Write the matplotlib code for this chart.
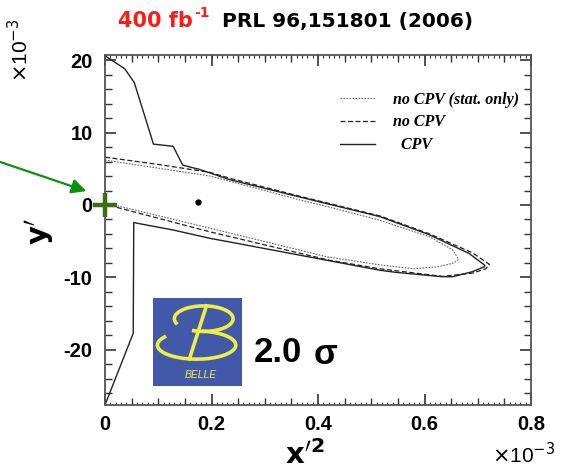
import numpy as np
import matplotlib
matplotlib.use('Agg')
from matplotlib import pyplot as plt
from matplotlib.ticker import MultipleLocator

plt.rcParams['font.family'] = ['Liberation Sans', 'DejaVu Sans']

# contours (x'^2 and y' in units of 1e-3)
cpv_x = [0.0, 0.037, 0.055, 0.091, 0.128, 0.146, 0.178, 0.234, 0.366, 0.516, 0.609, 0.684, 0.713,
         0.713, 0.69, 0.653, 0.634, 0.547, 0.516, 0.234, 0.197, 0.128, 0.059, 0.054, 0.053, 0.0]
cpv_y = [20.6, 18.8, 16.9, 8.4, 8.1, 5.5, 4.9, 3.5, 1.1, -1.6, -4.1, -6.7, -8.3,
         -8.5, -9.2, -9.9, -9.9, -9.3, -9.0, -5.1, -4.6, -3.45, -2.5, -2.4, -17.7, -27.6]

nocpv_x = [0.0, 0.1, 0.197, 0.234, 0.366, 0.516, 0.61, 0.69, 0.722,
           0.715, 0.69, 0.634, 0.516, 0.42, 0.197, 0.0]
nocpv_y = [6.6, 5.6, 4.5, 3.7, 1.2, -1.5, -4.0, -6.6, -8.2,
           -8.8, -9.4, -9.85, -8.8, -7.6, -3.7, 0.1]

stat_x = [0.0, 0.197, 0.366, 0.422, 0.516, 0.61, 0.653, 0.664,
          0.655, 0.628, 0.58, 0.52, 0.42, 0.197, 0.0]
stat_y = [6.2, 4.0, 0.7, -0.3, -2.1, -4.4, -6.2, -7.5,
          -8.0, -8.5, -8.8, -8.3, -7.2, -3.2, 0.3]

best_x, best_y = [0.174], [0.4]
nomix_x, nomix_y = [0.0], [0.0]

labels = ['no CPV (stat. only)', 'no CPV', '  CPV']

fig = plt.figure(figsize=(5.62, 4.70), dpi=100)
ax = fig.add_axes([105/562, 65/470, 426/562, 350/470])

l_stat, = ax.plot(stat_x, stat_y, color='#666666', lw=0.8, ls=(0, (1.5, 1.2)))
l_nocpv, = ax.plot(nocpv_x, nocpv_y, color='#222222', lw=0.9, ls=(0, (4, 2)))
l_cpv, = ax.plot(cpv_x, cpv_y, color='#222222', lw=1.0)
ax.plot(best_x, best_y, 'o', color='black', ms=3.5)
ax.plot(nomix_x, nomix_y, '+', color='#3b6e10', ms=17, mew=3.2, clip_on=False, zorder=5)

ax.set_xlim(0, 0.8)
ax.set_ylim(-27.6, 20.7)
ax.xaxis.set_major_locator(MultipleLocator(0.2))
ax.xaxis.set_minor_locator(MultipleLocator(0.05))
ax.yaxis.set_major_locator(MultipleLocator(10))
ax.yaxis.set_minor_locator(MultipleLocator(2))
ax.tick_params(which='both', direction='in', top=True, right=True, color='#333333')
ax.tick_params(which='major', length=8, width=1.2)
ax.tick_params(which='minor', length=5, width=1.0)
ax.tick_params(axis='x', which='major', pad=7)
ax.tick_params(axis='y', which='major', pad=9)
for lbl in ax.get_xticklabels() + ax.get_yticklabels():
    lbl.set_fontweight('bold')
    lbl.set_fontsize(14.5)
ax.xaxis.set_major_formatter(matplotlib.ticker.FuncFormatter(lambda v, p: '%g' % round(v, 2)))
ax.yaxis.set_major_formatter(matplotlib.ticker.FuncFormatter(lambda v, p: '%d' % round(v)))
for s in ax.spines.values():
    s.set_color('#555555')
    s.set_linewidth(1.3)

# tiny ticks every 0.01 along x
for side in ('bottom', 'top'):
    sec = ax.secondary_xaxis(side)
    sec.set_xticks(np.arange(0, 0.801, 0.01))
    sec.tick_params(direction='in', length=2.5, width=0.8, color='#333333',
                    labelbottom=False, labeltop=False)
    sec.spines[side].set_visible(False)

leg = ax.legend([l_stat, l_nocpv, l_cpv], labels, loc='upper left',
                bbox_to_anchor=(0.552, 0.895), frameon=False, borderpad=0,
                borderaxespad=0, handlelength=2.2, handletextpad=1.1, labelspacing=0.42,
                prop=dict(family='Liberation Serif', style='italic', weight='bold', size=11.5))

# labels
fig.text(305/562, 1 - 455/470, r"$\mathbf{x}'^{\mathbf{2}}$", fontsize=21, ha='center', va='center')
fig.text(40/562, 1 - 232/470, r"$\mathbf{y}'$", fontsize=21, ha='center', va='center', rotation=90)
fig.text(555/562, 1 - 455/470, r"$\times$10$^{-3}$", fontsize=15, ha='right', va='center')
fig.text(20/562, 1 - 50/470, r"$\times$10$^{-3}$", fontsize=15, ha='center', va='center', rotation=90)

# title
fig.text(118/562, 1 - 21/470, "400 fb", color='#ff1a1a', fontsize=15,
         fontweight='bold', family='DejaVu Sans', ha='left', va='center')
fig.text(194/562, 1 - 13/470, "-1", color='#ff1a1a', fontsize=10,
         fontweight='bold', family='DejaVu Sans', ha='left', va='center')
fig.text(222/562, 1 - 21/470, "PRL 96,151801 (2006)", color='black', fontsize=14.5,
         fontweight='bold', family='DejaVu Sans', ha='left', va='center')

fig.text(254/562, 1 - 352/470, "2.0", fontsize=25, fontweight='bold', ha='left', va='center')
fig.text(314/562, 1 - 354/470, "σ", fontsize=25, fontweight='bold', ha='left', va='center')

ax.annotate('', xy=(89/562, 1 - 192/470), xytext=(-0.01, 1 - 160/470),
            xycoords='figure fraction', textcoords='figure fraction',
            arrowprops=dict(arrowstyle='-|>', color='#109010', lw=1.6, mutation_scale=22))

# Belle logo
lax = fig.add_axes([153/562, 1 - 386/470, 89/562, 88/470])
lax.set_facecolor('#4258a8')
lax.set_xlim(0, 1)
lax.set_ylim(0, 1)
lax.set_xticks([])
lax.set_yticks([])
for s in lax.spines.values():
    s.set_visible(False)
yel = '#eeee44'
t = np.radians(np.linspace(200, -110, 80))
lax.plot(0.57 + 0.33 * np.cos(t), 0.765 + 0.145 * np.sin(t), color=yel, lw=2.6)
t = np.radians(np.linspace(145, 440, 100))
lax.plot(0.49 + 0.44 * np.cos(t), 0.465 + 0.16 * np.sin(t), color=yel, lw=2.6)
lax.plot([0.6, 0.41], [0.91, 0.31], color=yel, lw=2.6)
lax.text(0.54, 0.12, 'BELLE', color=yel, fontsize=7.5, style='italic', ha='center', va='center')

fig.savefig('out.png', dpi=100)
